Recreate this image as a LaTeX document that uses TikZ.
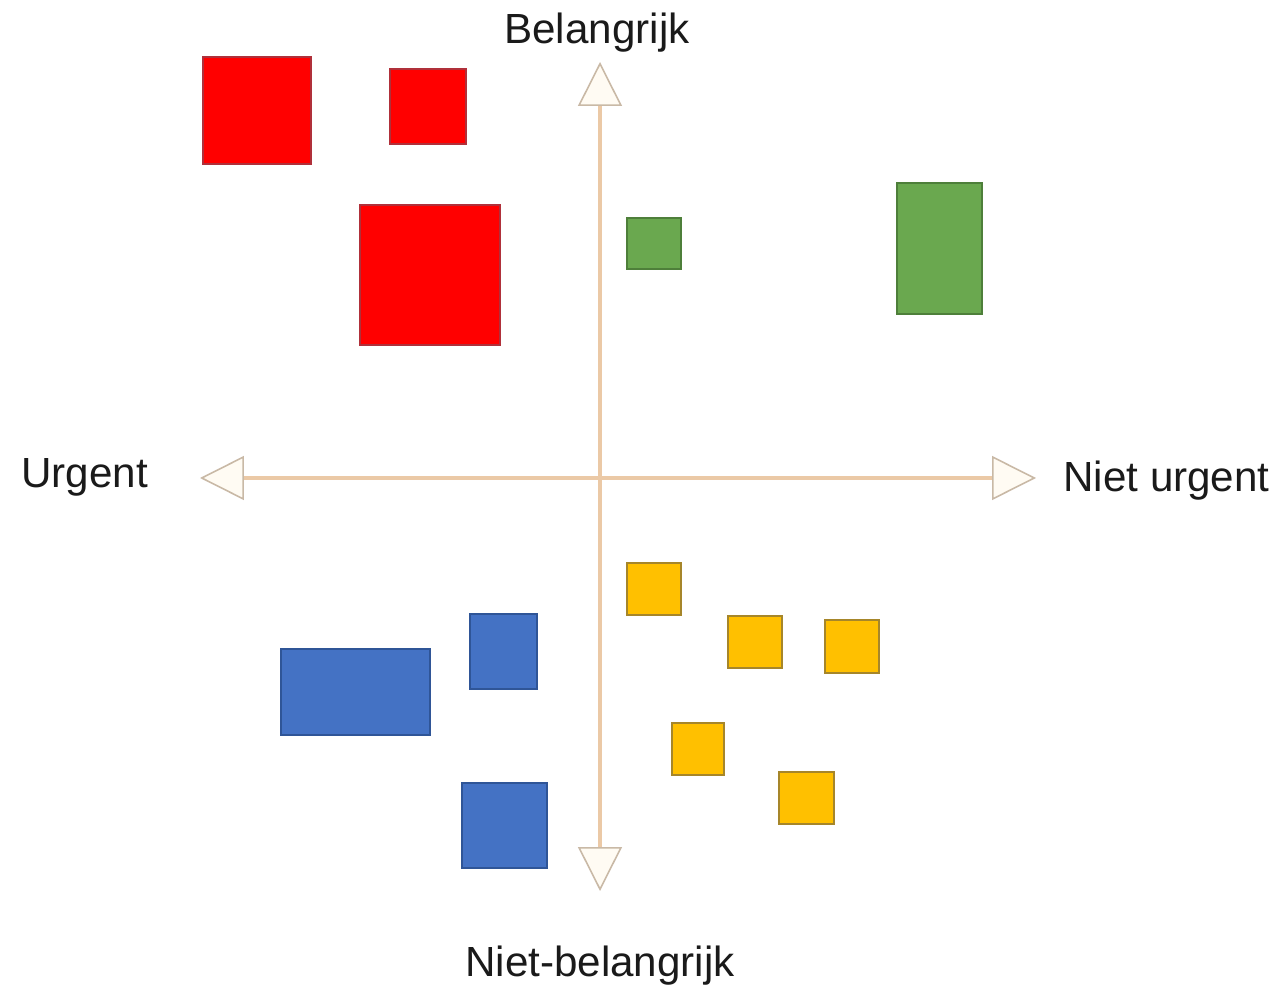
\documentclass[tikz,border=0pt]{standalone}
\usepackage{fontspec}
\setmainfont{Liberation Sans}
\usetikzlibrary{arrows.meta}
\definecolor{axiscol}{HTML}{EBC9A6}
\definecolor{tipcol}{HTML}{C9B9A6}
\definecolor{tipfill}{HTML}{FFFBF3}
\definecolor{redf}{HTML}{FF0000}
\definecolor{redd}{HTML}{B0303A}
\definecolor{greenf}{HTML}{6AA84F}
\definecolor{greend}{HTML}{4E7F3A}
\definecolor{bluef}{HTML}{4472C4}
\definecolor{blued}{HTML}{2F5597}
\definecolor{yelf}{HTML}{FFC000}
\definecolor{yeld}{HTML}{A6862A}
\definecolor{txt}{HTML}{1A1A1A}
\tikzset{
  box/.style={rectangle, inner sep=0pt, outer sep=0pt, line width=0.8pt},
  sz/.style 2 args={minimum width=#1*0.02cm, minimum height=#2*0.02cm},
  redbox/.style={box, fill=redf, draw=redd},
  greenbox/.style={box, fill=greenf, draw=greend},
  bluebox/.style={box, fill=bluef, draw=blued},
  yelbox/.style={box, fill=yelf, draw=yeld},
  axis/.style={draw=axiscol, line width=2pt,
    arrows={Triangle[length=25pt,width=25pt,fill=tipfill,color=tipcol,line width=0.9pt]-Triangle[length=25pt,width=25pt,fill=tipfill,color=tipcol,line width=0.9pt]}},
  lbl/.style={font=\fontsize{24}{28}\selectfont, text=txt, inner sep=0pt}
}
\begin{document}
\begin{tikzpicture}[x=0.02cm,y=-0.02cm]
\useasboundingbox[fill=white] (0,0) rectangle (1275,996);
% axes
\coordinate (top) at (600,62);
\coordinate (bot) at (600,891);
\coordinate (lft) at (200,478);
\coordinate (rgt) at (1036,478);
\draw[axis] (bot) -- (top);
\draw[axis] (lft) -- (rgt);
% labels
\node[lbl] (belangrijk) at (597,33) {Belangrijk};
\node[lbl] (nietbelangrijk) at (600,966) {Niet-belangrijk};
\node[lbl, anchor=west] (urgent) at (21,477) {Urgent};
\node[lbl, anchor=west] (nieturgent) at (1063,481) {Niet urgent};
% red
\node[redbox, sz={108}{107}] (r1) at (257,110.5) {};
\node[redbox, sz={76}{75}] (r2) at (428,106.5) {};
\node[redbox, sz={140}{140}] (r3) at (430,275) {};
% green
\node[greenbox, sz={54}{51}] (g1) at (654,243.5) {};
\node[greenbox, sz={85}{131}] (g2) at (939.5,248.5) {};
% blue
\node[bluebox, sz={149}{86}] (b1) at (355.5,692) {};
\node[bluebox, sz={67}{75}] (b2) at (503.5,651.5) {};
\node[bluebox, sz={85}{85}] (b3) at (504.5,825.5) {};
% yellow
\node[yelbox, sz={54}{52}] (y1) at (654,589) {};
\node[yelbox, sz={54}{52}] (y2) at (755,642) {};
\node[yelbox, sz={54}{53}] (y3) at (852,646.5) {};
\node[yelbox, sz={52}{52}] (y4) at (698,749) {};
\node[yelbox, sz={55}{52}] (y5) at (806.5,798) {};
\end{tikzpicture}
\end{document}
